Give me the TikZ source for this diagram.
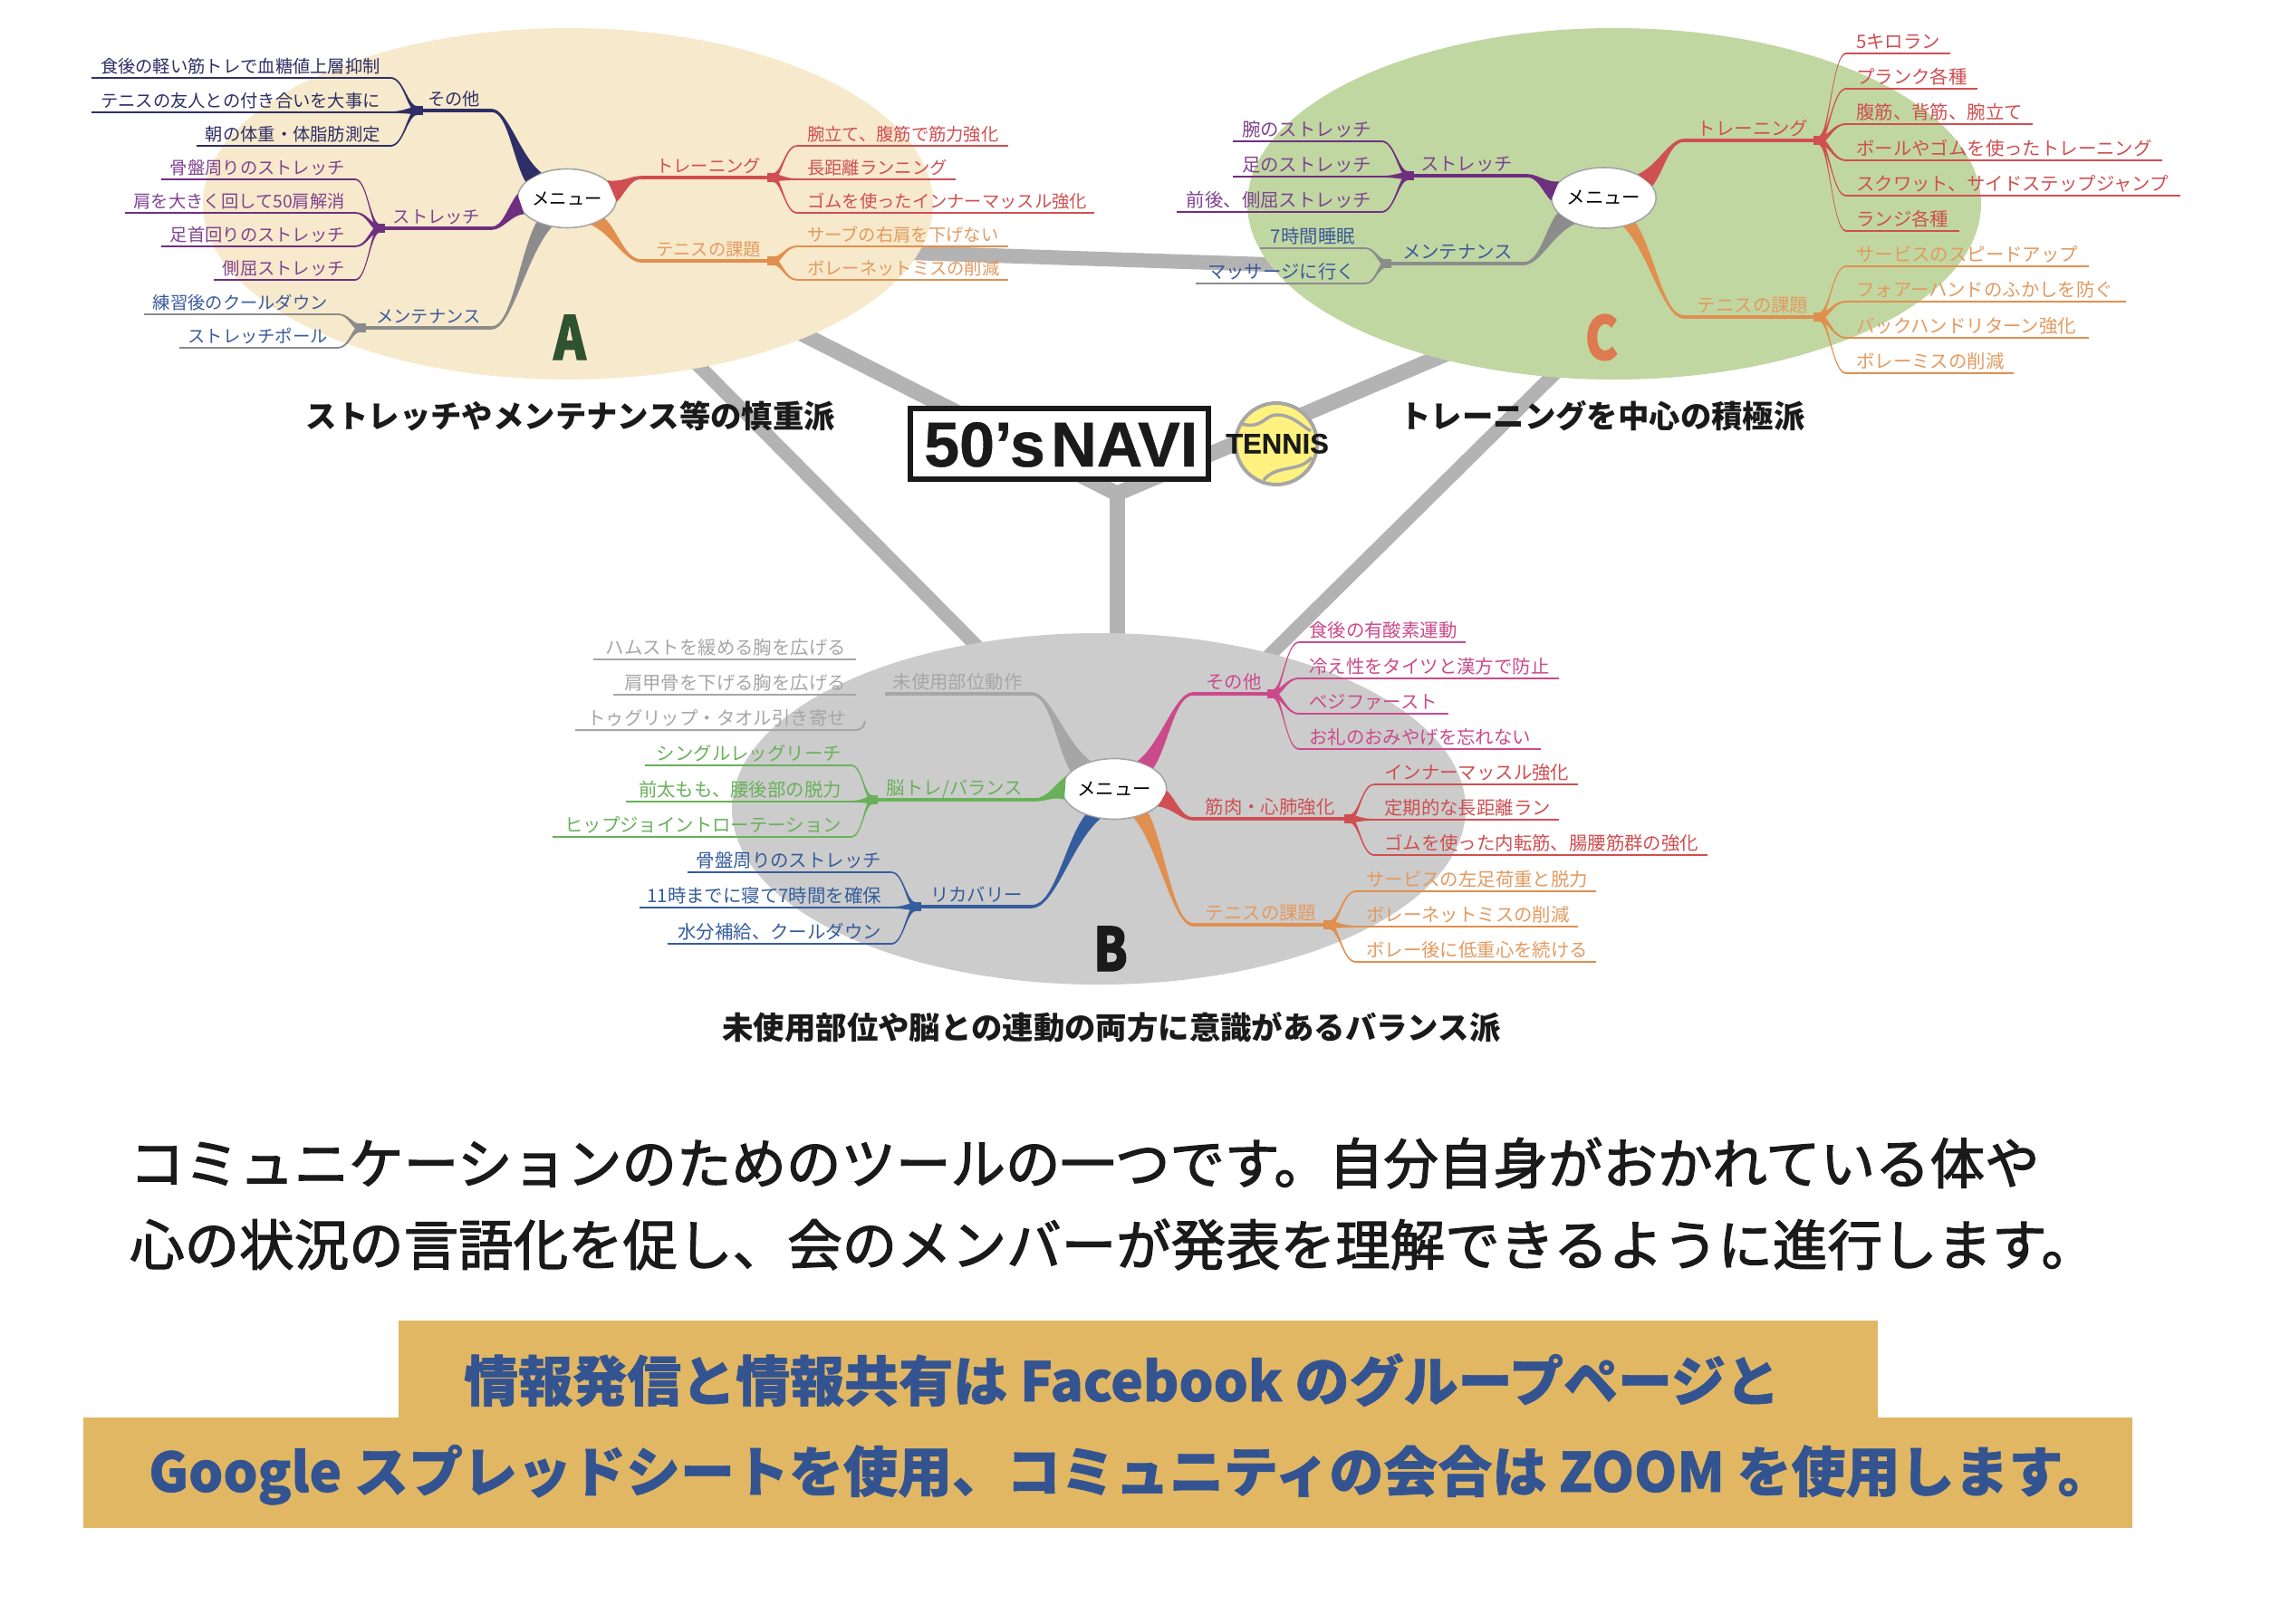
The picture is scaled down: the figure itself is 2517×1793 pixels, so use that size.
\documentclass[tikz,border=0pt]{standalone}
\usepackage{fontspec}
\usepackage{graphicx}
\usetikzlibrary{calc,shapes.geometric}
\setmainfont{Noto Sans CJK JP}
\newfontfamily\parafont[FakeBold=2]{Noto Sans CJK JP}
\newfontfamily\bandfont[BoldFeatures={FakeBold=1}]{Noto Sans CJK JP}
\newfontfamily\letterfont[BoldFeatures={FakeBold=2}]{Noto Sans CJK JP}
\newfontfamily\logofont[BoldFeatures={FakeBold=0.6}]{Liberation Sans}
\definecolor{cRed}{HTML}{CF4F52}
\definecolor{cOrange}{HTML}{E08F4F}
\definecolor{cOrangeT}{HTML}{E39A5F}
\definecolor{cPurple}{HTML}{6F2F7F}
\definecolor{cPurpleT}{HTML}{7F4390}
\definecolor{cNavy}{HTML}{2E2F66}
\definecolor{cGray}{HTML}{8C8C8C}
\definecolor{cBlueT}{HTML}{3B5A9B}
\definecolor{cGreen}{HTML}{68B159}
\definecolor{cPink}{HTML}{CB4A8B}
\definecolor{cLGray}{HTML}{A6A6A6}
\definecolor{cBlue}{HTML}{355C9C}
\definecolor{cBar}{HTML}{B3B3B3}
\definecolor{cInk}{HTML}{1A1A1A}
\definecolor{cBand}{HTML}{E1B764}
\definecolor{cBandT}{HTML}{335490}
\definecolor{cA}{HTML}{F7E9CB}
\definecolor{cB}{HTML}{CCCCCC}
\definecolor{cC}{HTML}{C1D7A2}
\definecolor{cLA}{HTML}{2F5230}
\definecolor{cLC}{HTML}{DD7A50}
\definecolor{cYellow}{HTML}{FFF27F}
\newcommand{\lsz}{19.3}
\tikzset{
  lbl/.style={inner sep=0pt,font=\fontsize{\lsz}{23}\selectfont},
  blob/.style={shape=ellipse,inner sep=0pt,draw=none},
  menunode/.style={shape=ellipse,inner sep=0pt,fill=white,draw=cLGray,line width=1.6pt,minimum width=106pt,minimum height=65pt,font=\fontsize{\lsz}{23}\selectfont},
  bar/.style={draw=cBar,line cap=butt,line join=miter,shorten <=-12pt,shorten >=-12pt},
  caption/.style={inner sep=0pt,anchor=base,text=cInk,font=\fontsize{34.4}{40}\selectfont\bfseries},
  bigletter/.style={inner sep=0pt,anchor=base,font=\fontsize{66}{70}\selectfont\letterfont\bfseries},
  parat/.style={inner sep=0pt,anchor=base west,text=cInk,font=\fontsize{60.5}{70}\selectfont\parafont},
  bandt/.style={inner sep=0pt,anchor=base west,text=cBandT,font=\fontsize{60}{70}\selectfont\bandfont\bfseries},
  logot/.style={inner sep=0pt,anchor=base west,text=cInk,font=\fontsize{70}{80}\selectfont\logofont\bfseries},
}
% tapered curve from a leaf line to its junction
\newcommand{\leafcurve}[3]{%
  \fill[#2] let \p1=(#1n),\p2=(#3) in
    ({\x1},{\y1+0.9pt}) .. controls ({\x1+.5*(\x2-\x1)},{\y1+0.9pt}) and ({\x2-.4*(\x2-\x1)},{\y2+3.5pt}) .. ({\x2},{\y2+4.5pt})
    -- ({\x2},{\y2-4.5pt}) .. controls ({\x2-.4*(\x2-\x1)},{\y2-3.5pt}) and ({\x1+.5*(\x2-\x1)},{\y1-0.9pt}) .. ({\x1},{\y1-0.9pt}) -- cycle;}
% #1 name, #2 line colour, #3 text colour, #4 far x, #5 near x, #6 y, #7 junction, #8 text
\newcommand{\lleaf}[8]{%
  \coordinate (#1f) at (#4,#6); \coordinate (#1n) at (#5,#6);
  \draw[#2,line width=1.8pt] (#1f) -- (#1n);
  \leafcurve{#1}{#2}{#7}
  \node[lbl,text=#3,anchor=base east] (#1) at ($(#1n)+(-11,-5.5)$) {#8};}
\newcommand{\rleaf}[8]{%
  \coordinate (#1f) at (#4,#6); \coordinate (#1n) at (#5,#6);
  \draw[#2,line width=1.8pt] (#1f) -- (#1n);
  \leafcurve{#1}{#2}{#7}
  \node[lbl,text=#3,anchor=base west] (#1) at ($(#1n)+(11,-5.5)$) {#8};}
% #1 name, #2 colour, #3 x, #4 y
\newcommand{\junct}[4]{\node[shape=rectangle,fill=#2,inner sep=0pt,minimum size=10pt] (#1) at (#3,#4) {};}
% #1 name, #2 colour, #3 bend x, #4 y, #5 junction, #6 anchor a, #7 anchor b
\newcommand{\branch}[7]{%
  \coordinate (#1b) at (#3,#4);
  \draw[#2,line width=3.6pt] (#5) -- (#1b);
  \fill[#2] let \p1=(#1b),\p2=(#6),\p3=(#7),\p4=($(#6)!.5!(#7)$) in
    ({\x1},{\y1+1.8pt}) .. controls ({\x1+.38*(\x4-\x1)},{\y1+1.8pt}) and ({\x1+.6*(\x4-\x1)+.45*(\x2-\x4)},{\y1+.72*(\y4-\y1)+.45*(\y2-\y4)}) .. (\x2,\y2)
    -- (\x3,\y3) .. controls ({\x1+.6*(\x4-\x1)+.45*(\x3-\x4)},{\y1+.72*(\y4-\y1)+.45*(\y3-\y4)}) and ({\x1+.38*(\x4-\x1)},{\y1-1.8pt}) .. ({\x1},{\y1-1.8pt}) -- cycle;}
\newcommand{\blabel}[5]{\node[lbl,text=#2,anchor=base] (#1) at (#3,#4-5.5) {#5};}
\begin{document}
\begin{tikzpicture}[x=1pt,y=-1pt]
\path[use as bounding box,fill=white] (0,0) rectangle (2517,1793);
% blobs (named first, painted over the bars below)
\path (627,225) node[blob,minimum width=806pt,minimum height=388pt] (eA) {};
\path (1782,225) node[blob,minimum width=810pt,minimum height=388pt] (eC) {};
\path (1213,893) node[blob,minimum width=810pt,minimum height=388pt] (eB) {};
\coordinate (hub) at (1233,545);
% bars
\draw[bar,line width=16pt] (eA.-8.2) -- (eC.190);
\draw[bar,line width=15pt] (eA.-51) -- (eB.127.9);
\draw[bar,line width=15pt] (eC.250.5) -- (eB.42.6);
\draw[bar,line width=17pt,shorten <=-12pt,shorten >=0pt] (eA.-29) -- (hub);
\draw[bar,line width=17pt,shorten <=-12pt,shorten >=0pt] (eC.221.5) -- (hub);
\draw[bar,line width=17pt,shorten <=0pt,shorten >=-12pt] (hub) -- (hub |- eB.north);
\fill[cA] (eA.center) ellipse[x radius=403,y radius=194];
\fill[cC] (eC.center) ellipse[x radius=405,y radius=194];
\fill[cB] (eB.center) ellipse[x radius=405,y radius=194];

%%% A
\node[menunode] (mA) at (626,219) {メニュー};
\junct{jA1}{cNavy}{462}{122}
\lleaf{a11}{cNavy}{cNavy}{101}{431}{86}{jA1}{食後の軽い筋トレで血糖値上層抑制}
\lleaf{a12}{cNavy}{cNavy}{101}{431}{124}{jA1}{テニスの友人との付き合いを大事に}
\lleaf{a13}{cNavy}{cNavy}{217}{431}{161}{jA1}{朝の体重・体脂肪測定}
\branch{bA1}{cNavy}{543}{122}{jA1}{mA.135}{mA.158}
\blabel{tA1}{cNavy}{501}{122}{その他}
\junct{jA2}{cPurple}{420}{252}
\lleaf{a21}{cPurple}{cPurpleT}{178}{392}{198}{jA2}{骨盤周りのストレッチ}
\lleaf{a22}{cPurple}{cPurpleT}{138}{392}{235}{jA2}{肩を大きく回して50肩解消}
\lleaf{a23}{cPurple}{cPurpleT}{178}{392}{272}{jA2}{足首回りのストレッチ}
\lleaf{a24}{cPurple}{cPurpleT}{236}{392}{309}{jA2}{側屈ストレッチ}
\branch{bA2}{cPurple}{543}{252}{jA2}{mA.175}{mA.200}
\blabel{tA2}{cPurpleT}{482}{252}{ストレッチ}
\junct{jA3}{cGray}{399}{362}
\lleaf{a31}{cGray}{cBlueT}{159}{373}{347}{jA3}{練習後のクールダウン}
\lleaf{a32}{cGray}{cBlueT}{198}{373}{384}{jA3}{ストレッチポール}
\branch{bA3}{cGray}{543}{362}{jA3}{mA.218}{mA.242}
\blabel{tA3}{cBlueT}{473}{362}{メンテナンス}
\junct{jA4}{cRed}{852}{196}
\rleaf{a41}{cRed}{cRed}{1113}{880}{161}{jA4}{腕立て、腹筋で筋力強化}
\rleaf{a42}{cRed}{cRed}{1055}{880}{198}{jA4}{長距離ランニング}
\rleaf{a43}{cRed}{cRed}{1208}{880}{235}{jA4}{ゴムを使ったインナーマッスル強化}
\branch{bA4}{cRed}{708}{196}{jA4}{mA.24}{mA.-4}
\blabel{tA4}{cRed}{782}{196}{トレーニング}
\junct{jA5}{cOrange}{852}{288}
\rleaf{a51}{cOrange}{cOrangeT}{1113}{880}{272}{jA5}{サーブの右肩を下げない}
\rleaf{a52}{cOrange}{cOrangeT}{1113}{880}{309}{jA5}{ボレーネットミスの削減}
\branch{bA5}{cOrange}{708}{288}{jA5}{mA.-28}{mA.-48}
\blabel{tA5}{cOrangeT}{782}{288}{テニスの課題}
\node[bigletter,text=cLA] (lA) at (629,397) {\scalebox{0.82}[1]{A}};
\node[caption] (capA) at (630,472) {ストレッチやメンテナンス等の慎重派};

%%% C
\renewcommand{\lsz}{20.4}
\node[menunode,minimum width=110pt,minimum height=67pt] (mC) at (1770.5,218.5) {メニュー};
\junct{jC1}{cPurple}{1556}{194}
\lleaf{c11}{cPurple}{cPurpleT}{1361}{1525}{156}{jC1}{腕のストレッチ}
\lleaf{c12}{cPurple}{cPurpleT}{1361}{1525}{195}{jC1}{足のストレッチ}
\lleaf{c13}{cPurple}{cPurpleT}{1299}{1525}{234}{jC1}{前後、側屈ストレッチ}
\branch{bC1}{cPurple}{1686}{194}{jC1}{mC.160}{mC.183}
\blabel{tC1}{cPurpleT}{1619}{194}{ストレッチ}
\junct{jC2}{cGray}{1531}{291}
\lleaf{c21}{cGray}{cBlueT}{1391}{1507}{274}{jC2}{7時間睡眠}
\lleaf{c22}{cGray}{cBlueT}{1320}{1507}{313}{jC2}{マッサージに行く}
\branch{bC2}{cGray}{1682}{291}{jC2}{mC.198}{mC.222}
\blabel{tC2}{cBlueT}{1609}{291}{メンテナンス}
\junct{jC3}{cRed}{2007}{155}
\rleaf{c31}{cRed}{cRed}{2153}{2038}{59}{jC3}{5キロラン}
\rleaf{c32}{cRed}{cRed}{2183}{2038}{98}{jC3}{プランク各種}
\rleaf{c33}{cRed}{cRed}{2244}{2038}{137}{jC3}{腹筋、背筋、腕立て}
\rleaf{c34}{cRed}{cRed}{2387}{2038}{177}{jC3}{ボールやゴムを使ったトレーニング}
\rleaf{c35}{cRed}{cRed}{2407}{2038}{216}{jC3}{スクワット、サイドステップジャンプ}
\rleaf{c36}{cRed}{cRed}{2163}{2038}{255}{jC3}{ランジ各種}
\branch{bC3}{cRed}{1859}{155}{jC3}{mC.35}{mC.14}
\blabel{tC3}{cRed}{1935}{155}{トレーニング}
\junct{jC4}{cOrange}{2007}{350}
\rleaf{c41}{cOrange}{cOrangeT}{2306}{2038}{294}{jC4}{サービスのスピードアップ}
\rleaf{c42}{cOrange}{cOrangeT}{2347}{2038}{333}{jC4}{フォアーハンドのふかしを防ぐ}
\rleaf{c43}{cOrange}{cOrangeT}{2306}{2038}{373}{jC4}{バックハンドリターン強化}
\rleaf{c44}{cOrange}{cOrangeT}{2223}{2038}{412}{jC4}{ボレーミスの削減}
\branch{bC4}{cOrange}{1859}{350}{jC4}{mC.-38}{mC.-56}
\blabel{tC4}{cOrangeT}{1935}{350}{テニスの課題}
\node[bigletter,text=cLC] (lC) at (1768,397) {\scalebox{0.82}[1]{C}};
\node[caption] (capC) at (1769,472) {トレーニングを中心の積極派};

%%% B
\node[menunode,minimum width=112pt,minimum height=67pt] (mB) at (1230,871) {メニュー};
\coordinate (jB1) at (977,766);
\branch{bB1}{cLGray}{1139}{766}{jB1}{mB.130}{mB.158}
\blabel{tB1}{cLGray}{1057}{766}{未使用部位動作}
\coordinate (u1f) at (655,728); \coordinate (u1n) at (945,728);
\coordinate (u2f) at (677,767); \coordinate (u2n) at (945,767);
\coordinate (u3f) at (635,806); \coordinate (u3n) at (945,806); \coordinate (u3e) at (955,796);
\draw[cLGray,line width=2pt] (u1f) -- (u1n);
\draw[cLGray,line width=2pt] (u2f) -- (u2n);
\draw[cLGray,line width=2pt] (u3f) -- (u3n) .. controls (951,806) and (954,802) .. (u3e);
\node[lbl,text=cLGray,anchor=base east] (u1) at (934,722.5) {ハムストを緩める胸を広げる};
\node[lbl,text=cLGray,anchor=base east] (u2) at (934,761.5) {肩甲骨を下げる胸を広げる};
\node[lbl,text=cLGray,anchor=base east] (u3) at (934,800.5) {トゥグリップ・タオル引き寄せ};
\junct{jB2}{cGreen}{964}{883}
\lleaf{b21}{cGreen}{cGreen}{712}{940}{845}{jB2}{シングルレッグリーチ}
\lleaf{b22}{cGreen}{cGreen}{691}{940}{885}{jB2}{前太もも、腰後部の脱力}
\lleaf{b23}{cGreen}{cGreen}{610}{940}{924}{jB2}{ヒップジョイントローテーション}
\branch{bB2}{cGreen}{1143}{883}{jB2}{mB.165}{mB.192}
\blabel{tB2}{cGreen}{1054}{883}{脳トレ/バランス}
\junct{jB3}{cBlue}{1012}{1001}
\lleaf{b31}{cBlue}{cBlue}{759}{984}{963}{jB3}{骨盤周りのストレッチ}
\lleaf{b32}{cBlue}{cBlue}{706}{984}{1002}{jB3}{11時までに寝て7時間を確保}
\lleaf{b33}{cBlue}{cBlue}{737}{984}{1042}{jB3}{水分補給、クールダウン}
\branch{bB3}{cBlue}{1139}{1001}{jB3}{mB.222}{mB.245}
\blabel{tB3}{cBlue}{1078}{1001}{リカバリー}
\junct{jB4}{cPink}{1404}{766}
\rleaf{b41}{cPink}{cPink}{1618}{1434}{709}{jB4}{食後の有酸素運動}
\rleaf{b42}{cPink}{cPink}{1721}{1434}{749}{jB4}{冷え性をタイツと漢方で防止}
\rleaf{b43}{cPink}{cPink}{1599}{1434}{788}{jB4}{ベジファースト}
\rleaf{b44}{cPink}{cPink}{1701}{1434}{827}{jB4}{お礼のおみやげを忘れない}
\branch{bB4}{cPink}{1317}{766}{jB4}{mB.50}{mB.28}
\blabel{tB4}{cPink}{1362}{766}{その他}
\junct{jB5}{cRed}{1489}{904}
\rleaf{b51}{cRed}{cRed}{1742}{1517}{866}{jB5}{インナーマッスル強化}
\rleaf{b52}{cRed}{cRed}{1721}{1517}{905}{jB5}{定期的な長距離ラン}
\rleaf{b53}{cRed}{cRed}{1885}{1517}{944}{jB5}{ゴムを使った内転筋、腸腰筋群の強化}
\branch{bB5}{cRed}{1317}{904}{jB5}{mB.-2}{mB.-22}
\blabel{tB5}{cRed}{1402}{904}{筋肉・心肺強化}
\junct{jB6}{cOrange}{1466}{1021}
\rleaf{b61}{cOrange}{cOrangeT}{1762}{1497}{984}{jB6}{サービスの左足荷重と脱力}
\rleaf{b62}{cOrange}{cOrangeT}{1742}{1497}{1023}{jB6}{ボレーネットミスの削減}
\rleaf{b63}{cOrange}{cOrangeT}{1762}{1497}{1062}{jB6}{ボレー後に低重心を続ける}
\branch{bB6}{cOrange}{1317}{1021}{jB6}{mB.-35}{mB.-56}
\blabel{tB6}{cOrangeT}{1392}{1021}{テニスの課題}
\node[bigletter,text=cInk] (lB) at (1226,1072) {\scalebox{0.82}[1]{B}};
\node[caption] (capB) at (1227,1147) {未使用部位や脳との連動の両方に意識があるバランス派};

%%% logo
\node[shape=rectangle,draw=cInk,fill=white,line width=6pt,minimum width=329pt,minimum height=78pt,inner sep=0pt] (logo) at (1169.5,490) {};
\node[logot] (l50) at (1020,515) {50’s};
\node[logot] (lnv) at (1160,515) {NAVI};
\node[shape=circle,fill=cYellow,draw=cLGray,line width=4pt,minimum size=90pt,inner sep=0pt] (ball) at (1409,490) {};
\draw[cLGray,line width=3.5pt] (1370,468) .. controls (1395,474) and (1395,458) .. (1410,458) .. controls (1425,458) and (1435,468) .. (1447,476);
\draw[cLGray,line width=3.5pt] (1395,530) .. controls (1410,512) and (1435,522) .. (1448,505);
\node[inner sep=0pt,anchor=base,text=cInk,font=\fontsize{31}{34}\selectfont\logofont\bfseries] (tennis) at (1410,500.5) {TENNIS};

%%% paragraph and band
\node[parat] (p1) at (143,1307) {コミュニケーションのためのツールの一つです。自分自身がおかれている体や};
\node[parat] (p2) at (143,1397) {心の状況の言語化を促し、会のメンバーが発表を理解できるように進行します。};
\fill[cBand] (440,1458) rectangle (2073,1568);
\fill[cBand] (92,1565) rectangle (2354,1687);
\node[bandt] (t1) at (512,1547) {情報発信と情報共有は Facebook のグループページと};
\node[bandt] (t2) at (164,1647) {Google スプレッドシートを使用、コミュニティの会合は ZOOM を使用します。};
\end{tikzpicture}
\end{document}
